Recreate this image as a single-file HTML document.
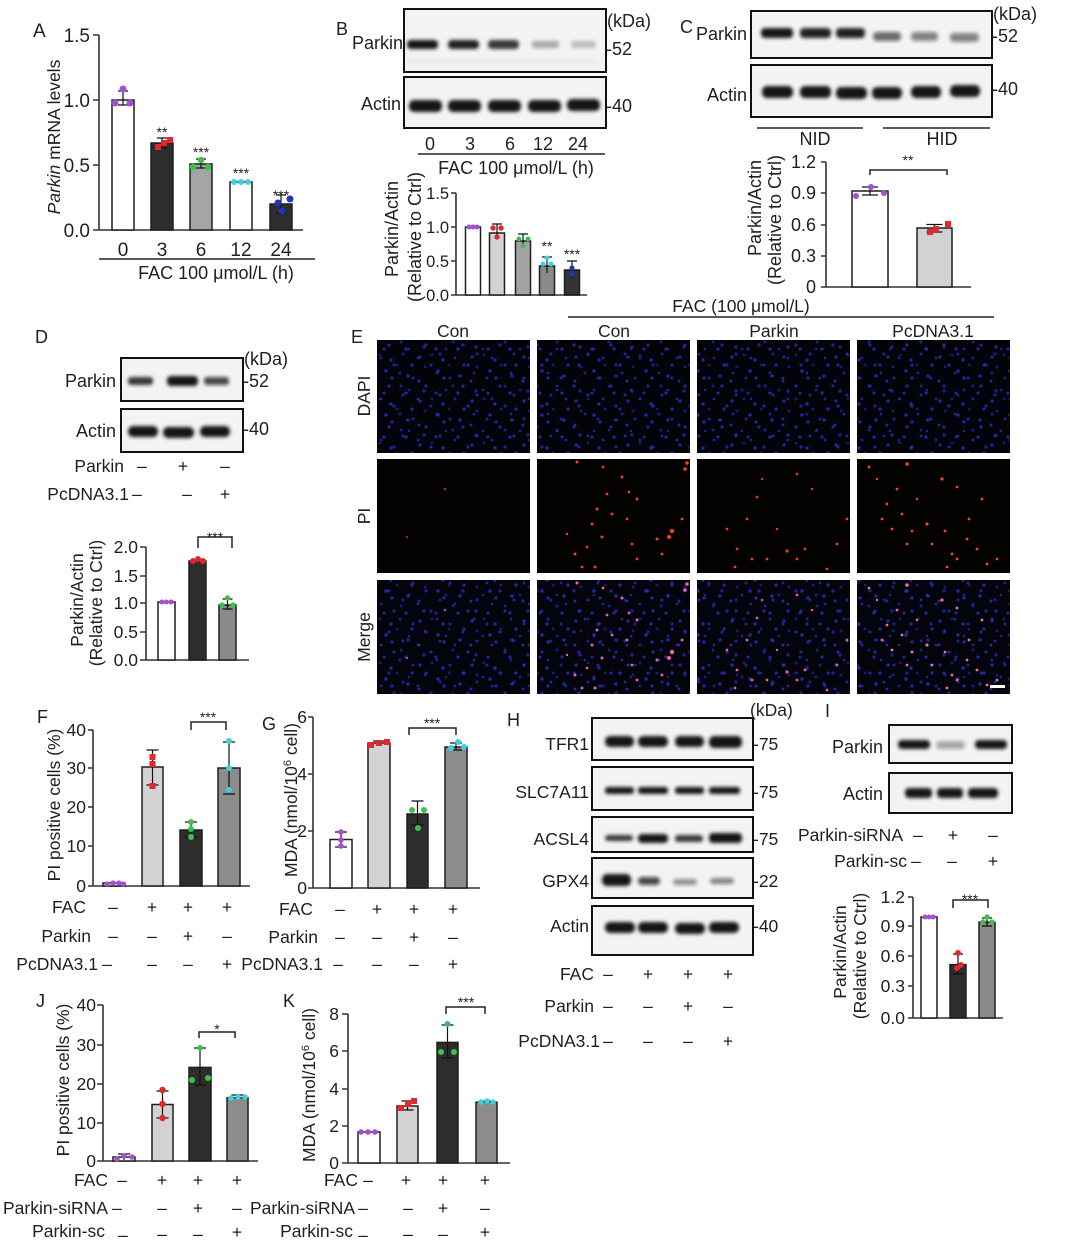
<!DOCTYPE html>
<html><head><meta charset="utf-8"><title>Figure</title>
<style>
html,body{margin:0;padding:0;background:#fff;}
svg{display:block;font-family:"Liberation Sans",Arial,sans-serif;font-size:17.5px;}
text{fill:#1f1f1f;}
.m{text-anchor:middle}
.e{text-anchor:end}
.ax{stroke:#333;stroke-width:1.6;fill:none}
.bar{stroke:#1e1e1e;stroke-width:1.5}
.eb{stroke:#111;stroke-width:1.2;fill:none}
.bl{fill:#f3f3f3;stroke:#111;stroke-width:2}
.ln{stroke:#222;stroke-width:1.6;fill:none}
.br{stroke:#222;stroke-width:1.5;fill:none}
.st{font-size:14px}
</style></head><body>
<svg width="1080" height="1250" viewBox="0 0 1080 1250" xmlns="http://www.w3.org/2000/svg">
<defs>
<filter id="bf" x="-20%" y="-60%" width="140%" height="220%"><feGaussianBlur stdDeviation="1.8"/></filter>
<pattern id="dapi" width="52" height="44" patternUnits="userSpaceOnUse">
<g fill="#2a2ac4" fill-opacity=".85">
<circle cx="4" cy="5" r="1.6"/><circle cx="16" cy="3" r="1.4" fill-opacity=".6"/><circle cx="27" cy="8" r="1.7"/><circle cx="48" cy="13" r="1.6"/>
<circle cx="9" cy="15" r="1.5" fill-opacity=".6"/><circle cx="22" cy="19" r="1.7"/><circle cx="44" cy="24" r="1.7"/><circle cx="3" cy="29" r="1.5"/>
<circle cx="28" cy="26" r="1.6"/><circle cx="37" cy="34" r="1.5" fill-opacity=".7"/><circle cx="8" cy="39" r="1.7" fill-opacity=".7"/>
<circle cx="20" cy="41" r="1.5"/><circle cx="42" cy="41" r="1.6"/><circle cx="33" cy="13" r="1.4" fill-opacity=".6"/>
</g>
</pattern>
<pattern id="dapi2" width="37" height="41" patternUnits="userSpaceOnUse">
<g fill="#3030c8" fill-opacity=".7">
<circle cx="6" cy="9" r="1.5"/><circle cx="30" cy="4" r="1.4"/><circle cx="19" cy="17" r="1.6"/><circle cx="33" cy="26" r="1.5"/>
<circle cx="11" cy="30" r="1.4"/><circle cx="24" cy="37" r="1.6"/><circle cx="2" cy="21" r="1.3"/>
</g>
</pattern>
<g id="pi1"><circle cx="68" cy="30" r="1.3"/><circle cx="30" cy="78" r="1.1"/></g>
<g id="pi2">
<circle cx="40" cy="3" r="1.5"/><circle cx="66" cy="8" r="1.4"/><circle cx="85" cy="18" r="1.5"/><circle cx="92" cy="33" r="1.4"/><circle cx="100" cy="40" r="1.5"/>
<circle cx="70" cy="35" r="1.4"/><circle cx="60" cy="50" r="1.5"/><circle cx="75" cy="55" r="1.4"/><circle cx="55" cy="65" r="1.5"/><circle cx="90" cy="60" r="1.4"/>
<circle cx="65" cy="78" r="1.5"/><circle cx="50" cy="88" r="1.4"/><circle cx="38" cy="95" r="1.5"/><circle cx="45" cy="108" r="1.4"/><circle cx="58" cy="108" r="1.5"/>
<circle cx="95" cy="85" r="1.4"/><circle cx="120" cy="80" r="1.5"/><circle cx="135" cy="72" r="2.2"/><circle cx="132" cy="78" r="2"/><circle cx="145" cy="60" r="1.4"/>
<circle cx="148" cy="10" r="1.8"/><circle cx="150" cy="4" r="1.8"/><circle cx="125" cy="95" r="1.4"/><circle cx="100" cy="100" r="1.4"/><circle cx="30" cy="75" r="1.2"/>
</g>
<g id="pi3">
<circle cx="100" cy="15" r="1.4"/><circle cx="60" cy="38" r="1.4"/><circle cx="50" cy="60" r="1.4"/><circle cx="40" cy="90" r="1.4"/><circle cx="38" cy="108" r="1.4"/>
<circle cx="55" cy="100" r="1.4"/><circle cx="70" cy="100" r="1.4"/><circle cx="90" cy="92" r="1.6"/><circle cx="100" cy="100" r="1.4"/><circle cx="108" cy="90" r="1.4"/>
<circle cx="150" cy="60" r="1.4"/><circle cx="140" cy="85" r="1.4"/><circle cx="130" cy="110" r="1.4"/><circle cx="80" cy="70" r="1.2"/><circle cx="115" cy="30" r="1.2"/>
<circle cx="30" cy="70" r="1.4"/><circle cx="65" cy="20" r="1.2"/>
</g>
<g id="pi4">
<circle cx="12" cy="8" r="1.4"/><circle cx="50" cy="5" r="1.8"/><circle cx="85" cy="20" r="1.6"/><circle cx="100" cy="28" r="1.4"/><circle cx="40" cy="30" r="1.4"/>
<circle cx="30" cy="45" r="1.4"/><circle cx="25" cy="60" r="1.4"/><circle cx="45" cy="55" r="1.4"/><circle cx="35" cy="70" r="1.4"/><circle cx="55" cy="72" r="1.4"/>
<circle cx="50" cy="85" r="1.4"/><circle cx="70" cy="65" r="1.6"/><circle cx="75" cy="85" r="1.4"/><circle cx="88" cy="72" r="1.4"/><circle cx="95" cy="95" r="1.4"/>
<circle cx="100" cy="100" r="1.4"/><circle cx="90" cy="108" r="1.4"/><circle cx="110" cy="80" r="1.4"/><circle cx="120" cy="90" r="1.4"/><circle cx="112" cy="60" r="1.4"/>
<circle cx="130" cy="105" r="1.4"/><circle cx="125" cy="40" r="1.4"/><circle cx="20" cy="20" r="1.2"/><circle cx="60" cy="40" r="1.2"/><circle cx="140" cy="100" r="1.4"/>
</g>
</defs>

<!-- ================= PANEL A ================= -->
<text x="33" y="37" font-size="19">A</text>
<path class="ax" d="M99,35V230H303M93,35H99M93,100H99M93,165H99M93,230H99"/>
<g class="e" font-size="19"><text x="90" y="42">1.5</text><text x="90" y="107">1.0</text><text x="90" y="172">0.5</text><text x="90" y="237">0.0</text></g>
<rect class="bar" x="112" y="100" width="22" height="130" fill="#fff"/>
<rect class="bar" x="151" y="143" width="22" height="87" fill="#2d2d2d"/>
<rect class="bar" x="190" y="164" width="22" height="66" fill="#a5a5a5"/>
<rect class="bar" x="230" y="182" width="22" height="48" fill="#fff"/>
<rect class="bar" x="270" y="204" width="22" height="26" fill="#2d2d2d"/>
<path class="eb" d="M123,91V105M118,91H128M118,105H128M162,138V148M157,138H167M157,148H167M201,159V168M196,159H206M196,168H206M281,195V213M276,195H286M276,213H286"/>
<g fill="#a24fd0"><circle cx="115" cy="103" r="3.5"/><circle cx="130" cy="103" r="3.5"/><circle cx="123" cy="89" r="3.5"/></g>
<g fill="#e0282e"><rect x="155" y="144" width="6" height="6"/><rect x="167" y="137" width="6" height="6"/><rect x="161" y="140" width="6" height="6"/></g>
<g fill="#3cc24a"><circle cx="193" cy="167" r="3.3"/><circle cx="208" cy="167" r="3.3"/><circle cx="201" cy="160" r="3.3"/></g>
<g fill="#3fd0e0"><circle cx="234" cy="182" r="3"/><circle cx="241" cy="182" r="3"/><circle cx="248" cy="182" r="3"/></g>
<g fill="#2233bb"><circle cx="278" cy="203" r="3.5"/><circle cx="290" cy="199" r="3.5"/><circle cx="282" cy="211" r="3.5"/></g>
<g class="m st"><text x="162" y="137">**</text><text x="201" y="157">***</text><text x="241" y="178">***</text><text x="281" y="200">***</text></g>
<g class="m" font-size="19"><text x="123" y="256">0</text><text x="162" y="256">3</text><text x="201" y="256">6</text><text x="241" y="256">12</text><text x="281" y="256">24</text></g>
<path class="ln" d="M99,259H315"/>
<text class="m" x="216" y="279" font-size="18">FAC 100 μmol/L (h)</text>
<text class="m" transform="translate(60,137) rotate(-90)"><tspan font-style="italic">Parkin</tspan> mRNA levels</text>

<!-- ================= PANEL B ================= -->
<text x="336" y="35" font-size="18">B</text>
<text x="352" y="49" font-size="18">Parkin</text>
<rect class="bl" x="404" y="9" width="202" height="63"/>
<rect class="bl" x="404" y="77" width="202" height="51"/>
<g filter="url(#bf)" fill="#141414">
<rect x="407" y="40" width="31" height="9" rx="4"/><rect x="448" y="40" width="31" height="9" rx="4" opacity=".95"/><rect x="488" y="40" width="31" height="9" rx="4" opacity=".85"/><rect x="532" y="41" width="27" height="7" rx="3" opacity=".35"/><rect x="571" y="41" width="25" height="7" rx="3" opacity=".22"/>
<rect x="408" y="60" width="190" height="3" opacity=".06"/>
<rect x="409" y="100" width="33" height="12" rx="5"/><rect x="448" y="100" width="33" height="12" rx="5"/><rect x="488" y="100" width="33" height="12" rx="5"/><rect x="528" y="100" width="33" height="12" rx="5"/><rect x="567" y="99" width="33" height="12" rx="5"/>
</g>
<g font-size="18"><text x="607" y="27">(kDa)</text><text x="606" y="55">-52</text><text x="606" y="112">-40</text><text class="e" x="401" y="110">Actin</text></g>
<g class="m" font-size="18"><text x="430" y="150">0</text><text x="470" y="150">3</text><text x="510" y="150">6</text><text x="543" y="150">12</text><text x="578" y="150">24</text></g>
<path class="ln" d="M418,154H605"/>
<text class="m" x="516" y="174" font-size="18">FAC 100 μmol/L (h)</text>
<path class="ax" d="M456,193V295H587M451,193H456M451,227H456M451,261H456M451,295H456"/>
<g class="e" font-size="16.5" fill="#444"><text x="449" y="199">1.5</text><text x="449" y="233">1.0</text><text x="449" y="267">0.5</text><text x="449" y="301">0.0</text></g>
<rect class="bar" x="465.5" y="227" width="15" height="68" fill="#fff"/>
<rect class="bar" x="489.5" y="233" width="15" height="62" fill="#d3d3d3"/>
<rect class="bar" x="515.5" y="241" width="15" height="54" fill="#a3a3a3"/>
<rect class="bar" x="539.5" y="266" width="15" height="29" fill="#8a8a8a"/>
<rect class="bar" x="564.5" y="270" width="15" height="25" fill="#333"/>
<path class="eb" d="M497,224V239M492,224H502M523,234V246M518,234H528M547,257V273M542,257H552M572,261V278M567,261H577"/>
<g fill="#a24fd0"><circle cx="469" cy="227" r="2.5"/><circle cx="473" cy="227" r="2.5"/><circle cx="477" cy="227" r="2.5"/></g>
<g fill="#e0282e"><circle cx="493" cy="228" r="2.7"/><circle cx="501" cy="228" r="2.7"/><circle cx="497" cy="237" r="2.7"/></g>
<g fill="#3cc24a"><circle cx="519" cy="239" r="2.5"/><circle cx="528" cy="239" r="2.5"/><circle cx="523" cy="246" r="2.5"/></g>
<g fill="#3fd0e0"><circle cx="543" cy="264" r="2.5"/><circle cx="551" cy="264" r="2.5"/><circle cx="547" cy="258" r="2.5"/></g>
<g fill="#2233bb"><circle cx="572" cy="268" r="2.6"/><circle cx="572" cy="274" r="2.6"/></g>
<g class="m st"><text x="547" y="251">**</text><text x="572" y="259">***</text></g>
<text class="m" font-size="18" transform="translate(398,229) rotate(-90)">Parkin/Actin</text>
<text class="m" font-size="18" transform="translate(421,237) rotate(-90)">(Relative to Ctrl)</text>

<!-- ================= PANEL C ================= -->
<text x="680" y="33" font-size="18">C</text>
<text x="696" y="40" font-size="18">Parkin</text>
<rect class="bl" x="751" y="11" width="241" height="47"/>
<rect class="bl" x="751" y="65" width="241" height="52"/>
<g filter="url(#bf)" fill="#141414">
<rect x="761" y="28" width="32" height="10" rx="4"/><rect x="800" y="28" width="31" height="10" rx="4" opacity=".95"/><rect x="836" y="28" width="29" height="10" rx="4" opacity=".95"/>
<rect x="873" y="32" width="28" height="9" rx="4" opacity=".6"/><rect x="911" y="32" width="27" height="9" rx="4" opacity=".5"/><rect x="950" y="33" width="29" height="9" rx="4" opacity=".5"/>
<rect x="762" y="86" width="31" height="12" rx="5"/><rect x="800" y="86" width="31" height="12" rx="5"/><rect x="836" y="87" width="31" height="12" rx="5"/><rect x="872" y="87" width="30" height="12" rx="5"/><rect x="911" y="86" width="30" height="12" rx="5"/><rect x="950" y="85" width="30" height="12" rx="5"/>
</g>
<g font-size="18"><text x="993" y="20">(kDa)</text><text x="992" y="42">-52</text><text x="992" y="95">-40</text><text class="e" x="747" y="101">Actin</text></g>
<path class="ln" d="M757,128H863M883,128H990"/>
<g class="m" font-size="18"><text x="815" y="145">NID</text><text x="942" y="145">HID</text></g>
<path class="ax" d="M826,162V287H971M821,162H826M821,193H826M821,225H826M821,256H826M821,287H826"/>
<g class="e" font-size="18"><text x="816" y="168">1.2</text><text x="816" y="199">0.9</text><text x="816" y="231">0.6</text><text x="816" y="262">0.3</text><text x="816" y="293">0</text></g>
<rect class="bar" x="852" y="191" width="36" height="96" fill="#fff"/>
<rect class="bar" x="917" y="228" width="35" height="59" fill="#d2d2d2"/>
<path class="eb" d="M870,187V195M862,187H878M862,195H878M934.5,224.5V232M926.5,224.5H942.5M926.5,232H942.5"/>
<g fill="#a24fd0"><circle cx="856" cy="196" r="3"/><circle cx="884" cy="193" r="3"/><circle cx="871" cy="187" r="3"/></g>
<g fill="#e0282e"><rect x="927" y="229" width="6" height="6"/><rect x="933" y="226" width="6" height="6"/><rect x="945" y="221" width="6" height="6"/></g>
<path class="br" d="M870,175V170H947V175"/>
<text class="m st" x="908" y="165">**</text>
<text class="m" font-size="18" transform="translate(761,208) rotate(-90)">Parkin/Actin</text>
<text class="m" font-size="18" transform="translate(781,220) rotate(-90)">(Relative to Ctrl)</text>

<!-- ================= PANEL D ================= -->
<text x="35" y="343" font-size="18">D</text>
<rect class="bl" x="121" y="358" width="122" height="43"/>
<rect class="bl" x="121" y="409" width="122" height="43"/>
<g filter="url(#bf)" fill="#141414">
<rect x="128" y="377" width="25" height="8" rx="3" opacity=".85"/><rect x="167" y="376" width="31" height="10" rx="4"/><rect x="204" y="377" width="25" height="8" rx="3" opacity=".75"/>
<rect x="128" y="426" width="30" height="11" rx="5"/><rect x="163" y="427" width="31" height="11" rx="5"/><rect x="200" y="426" width="30" height="11" rx="5"/>
</g>
<g font-size="18"><text x="244" y="365">(kDa)</text><text x="243" y="387">-52</text><text x="243" y="435">-40</text><text class="e" x="116" y="387">Parkin</text><text class="e" x="116" y="437">Actin</text></g>
<text class="e" x="124" y="472">Parkin</text>
<text class="e" x="129" y="500">PcDNA3.1</text>
<g class="m"><text x="142" y="472">–</text><text x="183" y="472">+</text><text x="225" y="472">–</text><text x="137" y="500">–</text><text x="187" y="500">–</text><text x="225" y="500">+</text></g>
<path class="ax" d="M146,547V660H249M140,547H146M140,576H146M140,603H146M140,632H146M140,660H146"/>
<g class="e"><text x="138" y="553">2.0</text><text x="138" y="582">1.5</text><text x="138" y="609">1.0</text><text x="138" y="638">0.5</text><text x="138" y="666">0.0</text></g>
<rect class="bar" x="158" y="602" width="17" height="58" fill="#fff"/>
<rect class="bar" x="189" y="561" width="17" height="99" fill="#2d2d2d"/>
<rect class="bar" x="219" y="605" width="17" height="55" fill="#8a8a8a"/>
<path class="eb" d="M227.5,599V609M222.5,599H232.5M222.5,609H232.5"/>
<g fill="#a24fd0"><circle cx="162" cy="602" r="2.5"/><circle cx="166.5" cy="602" r="2.5"/><circle cx="171" cy="602" r="2.5"/></g>
<g fill="#e0282e"><circle cx="193" cy="561" r="3"/><circle cx="198" cy="559" r="3"/><circle cx="203" cy="561" r="3"/></g>
<g fill="#3cc24a"><circle cx="222" cy="605" r="2.7"/><circle cx="233" cy="605" r="2.7"/><circle cx="227.5" cy="598" r="2.7"/></g>
<path class="br" d="M198,548V537H232V548"/>
<text class="m st" x="215" y="542">***</text>
<text class="m" transform="translate(83,600) rotate(-90)">Parkin/Actin</text>
<text class="m" transform="translate(102,603) rotate(-90)">(Relative to Ctrl)</text>

<!-- ================= PANEL E ================= -->
<text x="351" y="343" font-size="18">E</text>
<text class="m" x="741" y="312">FAC (100 μmol/L)</text>
<path class="ln" d="M568,317H994"/>
<g class="m"><text x="453" y="337">Con</text><text x="614" y="337">Con</text><text x="774" y="337">Parkin</text><text x="933" y="337">PcDNA3.1</text></g>
<text class="m" transform="translate(370,396) rotate(-90)">DAPI</text>
<text class="m" transform="translate(370,516) rotate(-90)">PI</text>
<text class="m" transform="translate(370,637) rotate(-90)">Merge</text>
<g fill="#03030a">
<rect x="377" y="340" width="153" height="113"/><rect x="537" y="340" width="153" height="113"/><rect x="697" y="340" width="153" height="113"/><rect x="857" y="340" width="153" height="113"/>
</g>
<g fill="url(#dapi)">
<rect x="377" y="340" width="153" height="113"/><rect x="537" y="340" width="153" height="113"/><rect x="697" y="340" width="153" height="113"/><rect x="857" y="340" width="153" height="113"/>
</g>
<g fill="url(#dapi2)">
<rect x="377" y="340" width="153" height="113"/><rect x="537" y="340" width="153" height="113"/><rect x="697" y="340" width="153" height="113"/><rect x="857" y="340" width="153" height="113"/>
</g>
<g fill="#040101">
<rect x="377" y="459" width="153" height="114"/><rect x="537" y="459" width="153" height="114"/><rect x="697" y="459" width="153" height="114"/><rect x="857" y="459" width="153" height="114"/>
</g>
<use href="#pi1" x="377" y="459" fill="#b02818"/>
<use href="#pi2" x="537" y="459" fill="#f04020"/>
<use href="#pi3" x="697" y="459" fill="#e83a1c"/>
<use href="#pi4" x="857" y="459" fill="#f04a22"/>
<g fill="#04040c">
<rect x="377" y="580" width="153" height="114"/><rect x="537" y="580" width="153" height="114"/><rect x="697" y="580" width="153" height="114"/><rect x="857" y="580" width="153" height="114"/>
</g>
<g fill="url(#dapi)">
<rect x="377" y="580" width="153" height="114"/><rect x="537" y="580" width="153" height="114"/><rect x="697" y="580" width="153" height="114"/><rect x="857" y="580" width="153" height="114"/>
</g>
<g fill="url(#dapi2)">
<rect x="377" y="580" width="153" height="114"/><rect x="537" y="580" width="153" height="114"/><rect x="697" y="580" width="153" height="114"/><rect x="857" y="580" width="153" height="114"/>
</g>
<use href="#pi1" x="377" y="580" fill="#a050b0"/>
<use href="#pi2" x="537" y="580" fill="#f060a8"/>
<use href="#pi3" x="697" y="580" fill="#e860a8"/>
<use href="#pi4" x="857" y="580" fill="#f070a0"/>
<rect x="990" y="685" width="15" height="3" fill="#fff"/>

<!-- ================= PANEL F ================= -->
<text x="37" y="723" font-size="18">F</text>
<path class="ax" d="M93,730V886H250M88,730H93M88,768H93M88,807H93M88,846H93M88,886H93"/>
<g class="e"><text x="86" y="736">40</text><text x="86" y="774">30</text><text x="86" y="813">20</text><text x="86" y="852">10</text><text x="86" y="892">0</text></g>
<rect class="bar" x="103" y="883" width="22" height="3" fill="#fff"/>
<rect class="bar" x="142" y="767" width="21" height="119" fill="#d3d3d3"/>
<rect class="bar" x="180" y="830" width="22" height="56" fill="#2d2d2d"/>
<rect class="bar" x="218" y="768" width="22" height="118" fill="#8c8c8c"/>
<path class="eb" d="M152.5,750V785M146.5,750H158.5M146.5,785H158.5M191,822V837M185,822H197M185,837H197M229,742V794M223,742H235M223,794H235"/>
<g fill="#a24fd0"><circle cx="107" cy="884" r="2.6"/><circle cx="113" cy="883" r="2.6"/><circle cx="119" cy="883" r="2.6"/><circle cx="123" cy="884" r="2.6"/></g>
<g fill="#e0282e"><rect x="149.5" y="754" width="6" height="6"/><rect x="149.5" y="761" width="6" height="6"/><rect x="149.5" y="783" width="6" height="6"/></g>
<g fill="#3cc24a"><circle cx="191" cy="822" r="3"/><circle cx="191" cy="837" r="3"/><circle cx="191" cy="829" r="3"/></g>
<g fill="#3fd0e0"><circle cx="229" cy="741" r="3"/><circle cx="229" cy="768" r="3"/><circle cx="229" cy="790" r="3"/></g>
<path class="br" d="M191,730V722H226V730"/>
<text class="m st" x="208" y="722">***</text>
<text class="m" transform="translate(60,805) rotate(-90)">PI positive cells (%)</text>
<g class="e"><text x="86" y="913">FAC</text><text x="91" y="942">Parkin</text><text x="98" y="970">PcDNA3.1</text></g>
<g class="m"><text x="113" y="913">–</text><text x="152" y="913">+</text><text x="188" y="913">+</text><text x="227" y="913">+</text>
<text x="113" y="942">–</text><text x="152" y="942">–</text><text x="188" y="942">+</text><text x="227" y="942">–</text>
<text x="107" y="970">–</text><text x="152" y="970">–</text><text x="188" y="970">–</text><text x="227" y="970">+</text></g>

<!-- ================= PANEL G ================= -->
<text x="262" y="730" font-size="18">G</text>
<path class="ax" d="M313,717V888H480M308,717H313M308,774H313M308,831H313M308,888H313"/>
<g class="e"><text x="307" y="723">6</text><text x="307" y="780">4</text><text x="307" y="837">2</text><text x="307" y="894">0</text></g>
<rect class="bar" x="330" y="839.5" width="22" height="48.5" fill="#fff"/>
<rect class="bar" x="368" y="743" width="22" height="145" fill="#d3d3d3"/>
<rect class="bar" x="407" y="814" width="21" height="74" fill="#2d2d2d"/>
<rect class="bar" x="445" y="747" width="22" height="141" fill="#8c8c8c"/>
<path class="eb" d="M341,832V847M335,832H347M335,847H347M379,741V745M373,741H385M417.5,801V825M411.5,801H423.5M411.5,825H423.5M456,743V750M450,743H462M450,750H462"/>
<g fill="#a24fd0"><circle cx="341" cy="832" r="2.8"/><circle cx="341" cy="840" r="2.8"/><circle cx="341" cy="846" r="2.8"/></g>
<g fill="#e0282e"><rect x="368" y="742" width="6" height="6"/><rect x="376" y="740" width="6" height="6"/><rect x="384" y="739" width="6" height="6"/></g>
<g fill="#3cc24a"><circle cx="412" cy="810" r="3"/><circle cx="424" cy="810" r="3"/><circle cx="418" cy="828" r="3"/></g>
<g fill="#3fd0e0"><circle cx="451" cy="748" r="3"/><circle cx="458" cy="742" r="3"/><circle cx="464" cy="747" r="3"/></g>
<path class="br" d="M409,735V728H456V735"/>
<text class="m st" x="432" y="728">***</text>
<text class="m" transform="translate(297,800) rotate(-90)">MDA (nmol/10<tspan dy="-6" font-size="11">6</tspan><tspan dy="6"> cell)</tspan></text>
<g class="e"><text x="313" y="915">FAC</text><text x="318" y="943">Parkin</text><text x="323" y="970">PcDNA3.1</text></g>
<g class="m"><text x="340" y="915">–</text><text x="377" y="915">+</text><text x="414" y="915">+</text><text x="453" y="915">+</text>
<text x="340" y="943">–</text><text x="377" y="943">–</text><text x="414" y="943">+</text><text x="453" y="943">–</text>
<text x="338" y="970">–</text><text x="377" y="970">–</text><text x="414" y="970">–</text><text x="453" y="970">+</text></g>

<!-- ================= PANEL H ================= -->
<text x="507" y="726" font-size="18">H</text>
<rect class="bl" x="592" y="718" width="161" height="42"/>
<rect class="bl" x="592" y="767" width="161" height="43"/>
<rect class="bl" x="592" y="817" width="161" height="35"/>
<rect class="bl" x="592" y="858" width="161" height="40"/>
<rect class="bl" x="592" y="906" width="161" height="49"/>
<g filter="url(#bf)" fill="#141414">
<rect x="605" y="736" width="29" height="11" rx="5"/><rect x="638" y="736" width="30" height="11" rx="5"/><rect x="675" y="736" width="29" height="11" rx="5"/><rect x="709" y="736" width="33" height="12" rx="5"/>
<rect x="605" y="787" width="29" height="7" rx="3"/><rect x="638" y="787" width="30" height="7" rx="3"/><rect x="675" y="787" width="29" height="7" rx="3"/><rect x="709" y="787" width="31" height="7" rx="3"/>
<rect x="605" y="835" width="28" height="6" rx="3" opacity=".85"/><rect x="638" y="834" width="30" height="9" rx="4"/><rect x="675" y="835" width="28" height="7" rx="3" opacity=".85"/><rect x="709" y="833" width="33" height="10" rx="4"/>
<rect x="602" y="874" width="29" height="12" rx="5"/><rect x="638" y="877" width="22" height="8" rx="4" opacity=".75"/><rect x="673" y="879" width="24" height="6" rx="3" opacity=".45"/><rect x="710" y="878" width="24" height="6" rx="3" opacity=".5"/>
<rect x="605" y="922" width="30" height="11" rx="5"/><rect x="638" y="922" width="30" height="11" rx="5"/><rect x="675" y="923" width="30" height="11" rx="5"/><rect x="709" y="922" width="30" height="11" rx="5"/>
</g>
<g class="e"><text x="589" y="750">TFR1</text><text x="589" y="798">SLC7A11</text><text x="589" y="845">ACSL4</text><text x="589" y="887">GPX4</text><text x="589" y="932">Actin</text></g>
<g><text x="750" y="716">(kDa)</text><text x="753" y="750">-75</text><text x="753" y="798">-75</text><text x="753" y="845">-75</text><text x="753" y="887">-22</text><text x="753" y="932">-40</text></g>
<g class="e"><text x="594" y="980">FAC</text><text x="594" y="1012">Parkin</text><text x="600" y="1047">PcDNA3.1</text></g>
<g class="m"><text x="608" y="980">–</text><text x="648" y="980">+</text><text x="688" y="980">+</text><text x="728" y="980">+</text>
<text x="608" y="1012">–</text><text x="648" y="1012">–</text><text x="688" y="1012">+</text><text x="728" y="1012">–</text>
<text x="608" y="1047">–</text><text x="648" y="1047">–</text><text x="688" y="1047">–</text><text x="728" y="1047">+</text></g>

<!-- ================= PANEL I ================= -->
<text x="825" y="717" font-size="18">I</text>
<rect class="bl" x="889" y="725" width="123" height="38"/>
<rect class="bl" x="889" y="773" width="123" height="40"/>
<g filter="url(#bf)" fill="#141414">
<rect x="898" y="740" width="32" height="9" rx="4"/><rect x="936" y="741" width="29" height="8" rx="4" opacity=".35"/><rect x="975" y="740" width="32" height="9" rx="4"/>
<rect x="905" y="788" width="27" height="10" rx="4"/><rect x="937" y="788" width="26" height="10" rx="4"/><rect x="968" y="788" width="30" height="10" rx="4"/>
</g>
<g class="e" font-size="18"><text x="883" y="753">Parkin</text><text x="883" y="800">Actin</text></g>
<g class="e"><text x="903" y="841">Parkin-siRNA</text><text x="907" y="867">Parkin-sc</text></g>
<g class="m"><text x="918" y="841">–</text><text x="953" y="841">+</text><text x="993" y="841">–</text>
<text x="916" y="867">–</text><text x="952" y="867">–</text><text x="993" y="867">+</text></g>
<path class="ax" d="M913,897V1018H1003M908,897H913M908,926H913M908,956H913M908,986H913M908,1018H913"/>
<g class="e"><text x="905" y="903">1.2</text><text x="905" y="932">0.9</text><text x="905" y="962">0.6</text><text x="905" y="992">0.3</text><text x="905" y="1024">0.0</text></g>
<rect class="bar" x="921" y="917" width="16" height="101" fill="#fff"/>
<rect class="bar" x="950" y="964.6" width="16" height="53.4" fill="#2d2d2d"/>
<rect class="bar" x="979" y="922.2" width="16" height="95.8" fill="#8a8a8a"/>
<path class="eb" d="M958,954V974M953,954H963M953,974H963M987,918V926M982,918H992M982,926H992"/>
<g fill="#a24fd0"><circle cx="925" cy="917" r="2.5"/><circle cx="929" cy="917" r="2.5"/><circle cx="933" cy="917" r="2.5"/></g>
<g fill="#e0282e"><circle cx="958" cy="953" r="3"/><circle cx="961" cy="965" r="3"/><circle cx="957" cy="968" r="3"/></g>
<g fill="#3cc24a"><circle cx="983" cy="922" r="2.7"/><circle cx="992" cy="922" r="2.7"/><circle cx="987" cy="917" r="2.7"/></g>
<path class="br" d="M953,908V900H988V908"/>
<text class="m st" x="970" y="904">***</text>
<text class="m" transform="translate(846,952) rotate(-90)">Parkin/Actin</text>
<text class="m" transform="translate(866,956) rotate(-90)">(Relative to Ctrl)</text>

<!-- ================= PANEL J ================= -->
<text x="36" y="1007" font-size="18">J</text>
<path class="ax" d="M103,1005V1161H258M97,1005H103M97,1045H103M97,1084H103M97,1123H103M97,1161H103"/>
<g class="e"><text x="96" y="1011">40</text><text x="96" y="1051">30</text><text x="96" y="1090">20</text><text x="96" y="1129">10</text><text x="96" y="1167">0</text></g>
<rect class="bar" x="113" y="1157" width="22" height="4" fill="#fff"/>
<rect class="bar" x="152" y="1104.5" width="21" height="56.5" fill="#d3d3d3"/>
<rect class="bar" x="189" y="1067.4" width="22" height="93.6" fill="#2d2d2d"/>
<rect class="bar" x="227" y="1097.8" width="21" height="63.2" fill="#8c8c8c"/>
<path class="eb" d="M124,1154V1160M118,1154H130M162.5,1091V1118M156.5,1091H168.5M156.5,1118H168.5M200,1048V1085M194,1048H206M194,1085H206M237.5,1095V1099M231.5,1095H243.5"/>
<g fill="#a24fd0"><circle cx="117" cy="1159" r="2.8"/><circle cx="124" cy="1156" r="2.8"/><circle cx="132" cy="1157" r="2.8"/></g>
<g fill="#e0282e"><circle cx="162.5" cy="1090" r="3.2"/><circle cx="162.5" cy="1104" r="3.2"/><circle cx="162.5" cy="1118" r="3.2"/></g>
<g fill="#3cc24a"><circle cx="192" cy="1080" r="3"/><circle cx="208" cy="1078" r="3"/><circle cx="200" cy="1048" r="3"/></g>
<g fill="#3fd0e0"><circle cx="231" cy="1098" r="2.8"/><circle cx="238" cy="1097" r="2.8"/><circle cx="245" cy="1097" r="2.8"/></g>
<path class="br" d="M199,1038V1032H235V1038"/>
<text class="m st" x="217" y="1034">*</text>
<text class="m" transform="translate(69,1080) rotate(-90)">PI positive cells (%)</text>
<g class="e"><text x="108" y="1186">FAC</text><text x="108" y="1214">Parkin-siRNA</text><text x="105" y="1237">Parkin-sc</text></g>
<g class="m"><text x="122" y="1186">–</text><text x="162" y="1186">+</text><text x="198" y="1186">+</text><text x="237" y="1186">+</text>
<text x="117" y="1214">–</text><text x="162" y="1214">–</text><text x="198" y="1214">+</text><text x="237" y="1214">–</text>
<text x="123" y="1241">–</text><text x="162" y="1240">–</text><text x="198" y="1240">–</text><text x="237" y="1238">+</text></g>

<!-- ================= PANEL K ================= -->
<text x="283" y="1007" font-size="18">K</text>
<path class="ax" d="M348,1014V1163H510M342,1014H348M342,1051H348M342,1089H348M342,1126H348M342,1163H348"/>
<g class="e"><text x="339" y="1020">8</text><text x="339" y="1057">6</text><text x="339" y="1095">4</text><text x="339" y="1132">2</text><text x="339" y="1169">0</text></g>
<rect class="bar" x="358" y="1132" width="22" height="31" fill="#fff"/>
<rect class="bar" x="397" y="1106" width="21" height="57" fill="#d3d3d3"/>
<rect class="bar" x="437" y="1042.4" width="21" height="120.6" fill="#2d2d2d"/>
<rect class="bar" x="476" y="1102.2" width="21" height="60.8" fill="#8c8c8c"/>
<path class="eb" d="M407.5,1101V1110M401.5,1101H413.5M401.5,1110H413.5M447.5,1025V1058M441.5,1025H453.5M441.5,1058H453.5M486.5,1101V1103M480.5,1101H492.5"/>
<g fill="#a24fd0"><circle cx="361" cy="1132" r="2.8"/><circle cx="368" cy="1132" r="2.8"/><circle cx="375" cy="1132" r="2.8"/></g>
<g fill="#e0282e"><rect x="398" y="1105" width="6" height="6"/><rect x="405" y="1101" width="6" height="6"/><rect x="411" y="1098" width="6" height="6"/></g>
<g fill="#3cc24a"><circle cx="441" cy="1052" r="3"/><circle cx="454" cy="1052" r="3"/><circle cx="447.5" cy="1024" r="3"/></g>
<g fill="#3fd0e0"><circle cx="481" cy="1102" r="2.8"/><circle cx="487" cy="1101" r="2.8"/><circle cx="493" cy="1102" r="2.8"/></g>
<path class="br" d="M446,1014V1007H485V1014"/>
<text class="m st" x="466" y="1007">***</text>
<text class="m" transform="translate(315,1085) rotate(-90)">MDA (nmol/10<tspan dy="-6" font-size="11">6</tspan><tspan dy="6"> cell)</tspan></text>
<g class="e"><text x="358" y="1186">FAC</text><text x="355" y="1214">Parkin-siRNA</text><text x="353" y="1237">Parkin-sc</text></g>
<g class="m"><text x="368" y="1186">–</text><text x="406" y="1186">+</text><text x="443" y="1186">+</text><text x="485" y="1186">+</text>
<text x="363" y="1214">–</text><text x="408" y="1214">–</text><text x="443" y="1214">+</text><text x="485" y="1214">–</text>
<text x="363" y="1241">–</text><text x="408" y="1240">–</text><text x="443" y="1240">–</text><text x="485" y="1238">+</text></g>
</svg>
</body></html>
